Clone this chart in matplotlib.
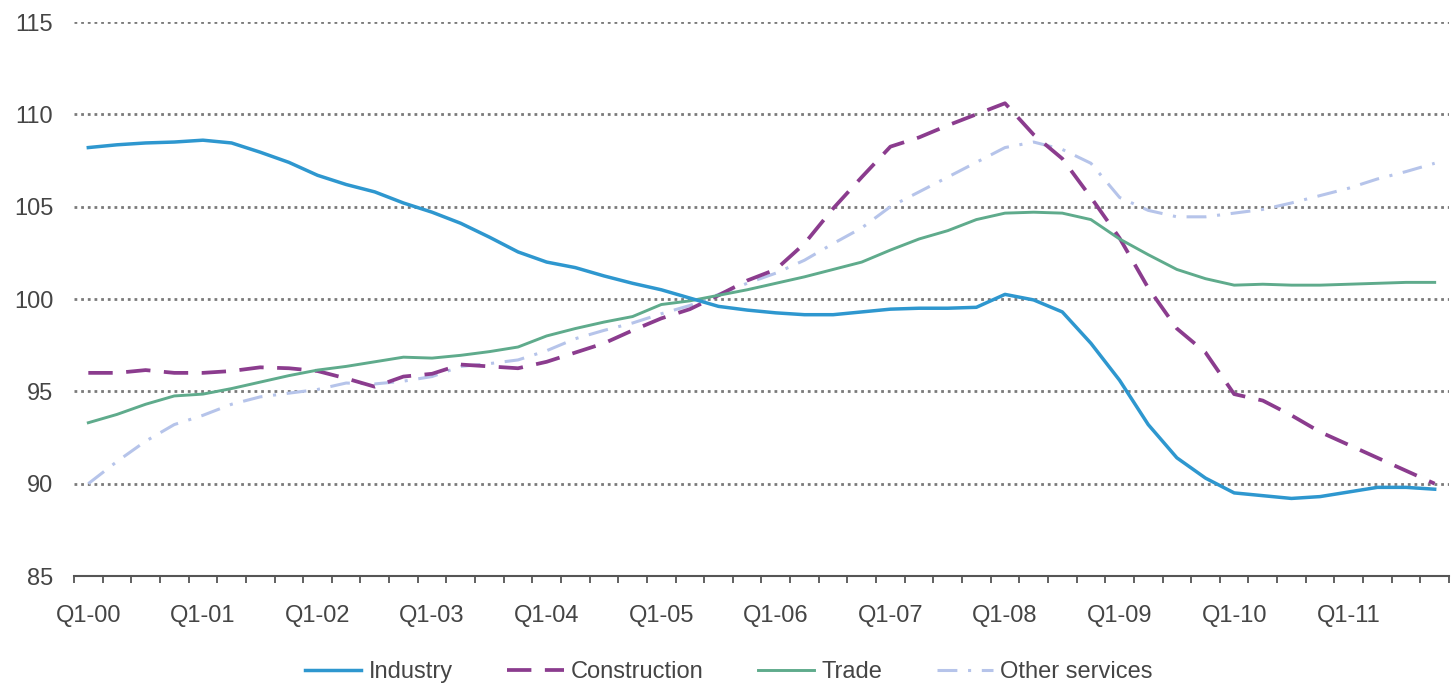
import matplotlib
matplotlib.use("Agg")
import matplotlib.pyplot as plt
import numpy as np

years = ["00", "01", "02", "03", "04", "05", "06", "07", "08", "09", "10", "11"]
quarters = [f"Q{q}-{y}" for y in years for q in range(1, 5)]
tick_labels = [f"Q1-{y}" for y in years]

industry = [108.2, 108.35, 108.45, 108.5, 108.6, 108.45, 107.95, 107.4, 106.7, 106.2,
            105.8, 105.2, 104.7, 104.1, 103.35, 102.55, 102.0, 101.7, 101.25, 100.85,
            100.5, 100.05, 99.6, 99.4, 99.25, 99.15, 99.15, 99.3, 99.45, 99.5,
            99.5, 99.55, 100.25, 99.95, 99.3, 97.6, 95.6, 93.2, 91.4, 90.3,
            89.5, 89.35, 89.2, 89.3, 89.55, 89.8, 89.8, 89.7]
construction = [96.0, 96.0, 96.15, 96.0, 96.0, 96.1, 96.3, 96.25, 96.1, 95.7,
                95.25, 95.8, 95.95, 96.45, 96.35, 96.25, 96.6, 97.1, 97.6, 98.3,
                98.95, 99.45, 100.2, 101.0, 101.6, 103.0, 104.9, 106.6, 108.25, 108.75,
                109.4, 110.0, 110.6, 108.9, 107.6, 105.5, 103.3, 100.6, 98.4, 97.1,
                94.85, 94.5, 93.7, 92.8, 92.1, 91.4, 90.7, 90.0]
trade = [93.3, 93.75, 94.3, 94.75, 94.85, 95.15, 95.5, 95.85, 96.15, 96.35,
         96.6, 96.85, 96.8, 96.95, 97.15, 97.4, 98.0, 98.4, 98.75, 99.05,
         99.7, 99.9, 100.2, 100.5, 100.85, 101.2, 101.6, 102.0, 102.65, 103.25,
         103.7, 104.3, 104.65, 104.7, 104.65, 104.3, 103.25, 102.4, 101.6, 101.1,
         100.75, 100.8, 100.75, 100.75, 100.8, 100.85, 100.9, 100.9]
other_services = [90.0, 91.2, 92.3, 93.2, 93.7, 94.3, 94.7, 94.9, 95.1, 95.45,
                  95.4, 95.55, 95.8, 96.35, 96.5, 96.7, 97.2, 97.85, 98.3, 98.7,
                  99.2, 99.65, 100.25, 100.85, 101.4, 102.1, 103.0, 103.85, 105.0, 105.8,
                  106.6, 107.4, 108.2, 108.5, 108.1, 107.35, 105.5, 104.8, 104.45, 104.45,
                  104.65, 104.85, 105.2, 105.6, 106.0, 106.5, 106.9, 107.35]

series_names = ["Industry", "Construction", "Trade", "Other services"]

plt.rcParams["font.family"] = ["Liberation Sans", "DejaVu Sans"]
text_color = "#454545"

fig = plt.figure(figsize=(14.52, 6.85), dpi=100)
ax = fig.add_axes([74 / 1452, 1 - 576 / 685, (1449 - 74) / 1452, (576 - 22) / 685])

x = np.arange(len(quarters))

ax.plot(x, industry, color="#2E97CF", lw=2.5, label=series_names[0], zorder=4)
ax.plot(x, construction, color="#8B3C8E", lw=2.7, dashes=(6.5, 3.6),
        label=series_names[1], zorder=3)
ax.plot(x, trade, color="#5FAB8C", lw=2.1, label=series_names[2], zorder=3)
ax.plot(x, other_services, color="#B6C4EA", lw=2.2, dashes=(6.5, 3.5, 1.0, 3.5),
        label=series_names[3], zorder=2)

ax.set_xlim(-0.5, len(quarters) - 0.5)
ax.set_ylim(85, 115)
ax.set_yticks([85, 90, 95, 100, 105, 110, 115])
ax.set_yticklabels(["85", "90", "95", "100", "105", "110", "115"])

for v in [90, 95, 100, 105, 110, 115]:
    ax.axhline(v, color="#7a7a7a", lw=2.0, dashes=(1.0, 1.4), zorder=1)

ax.set_xticks(x[::4])
ax.set_xticklabels(tick_labels)
ax.set_xticks(np.arange(-0.5, len(quarters), 1.0), minor=True)
ax.tick_params(axis="x", which="major", length=0, pad=21, labelsize=17, colors=text_color)
ax.tick_params(axis="x", which="minor", length=5, width=1.3, color="#555555", direction="out")
ax.tick_params(axis="y", which="both", length=0, pad=15, labelsize=17, colors=text_color)

for s in ["top", "right", "left"]:
    ax.spines[s].set_visible(False)
ax.spines["bottom"].set_color("#555555")
ax.spines["bottom"].set_linewidth(1.5)

handles, labels = ax.get_legend_handles_labels()
leg = fig.legend(handles, labels, loc="center", bbox_to_anchor=(0.502, 1 - 672 / 685),
                 ncol=4, frameon=False, fontsize=17, handlelength=2.4,
                 handletextpad=0.3, columnspacing=2.3)
for t in leg.get_texts():
    t.set_color(text_color)

fig.savefig("out.png", dpi=100, facecolor="white")
